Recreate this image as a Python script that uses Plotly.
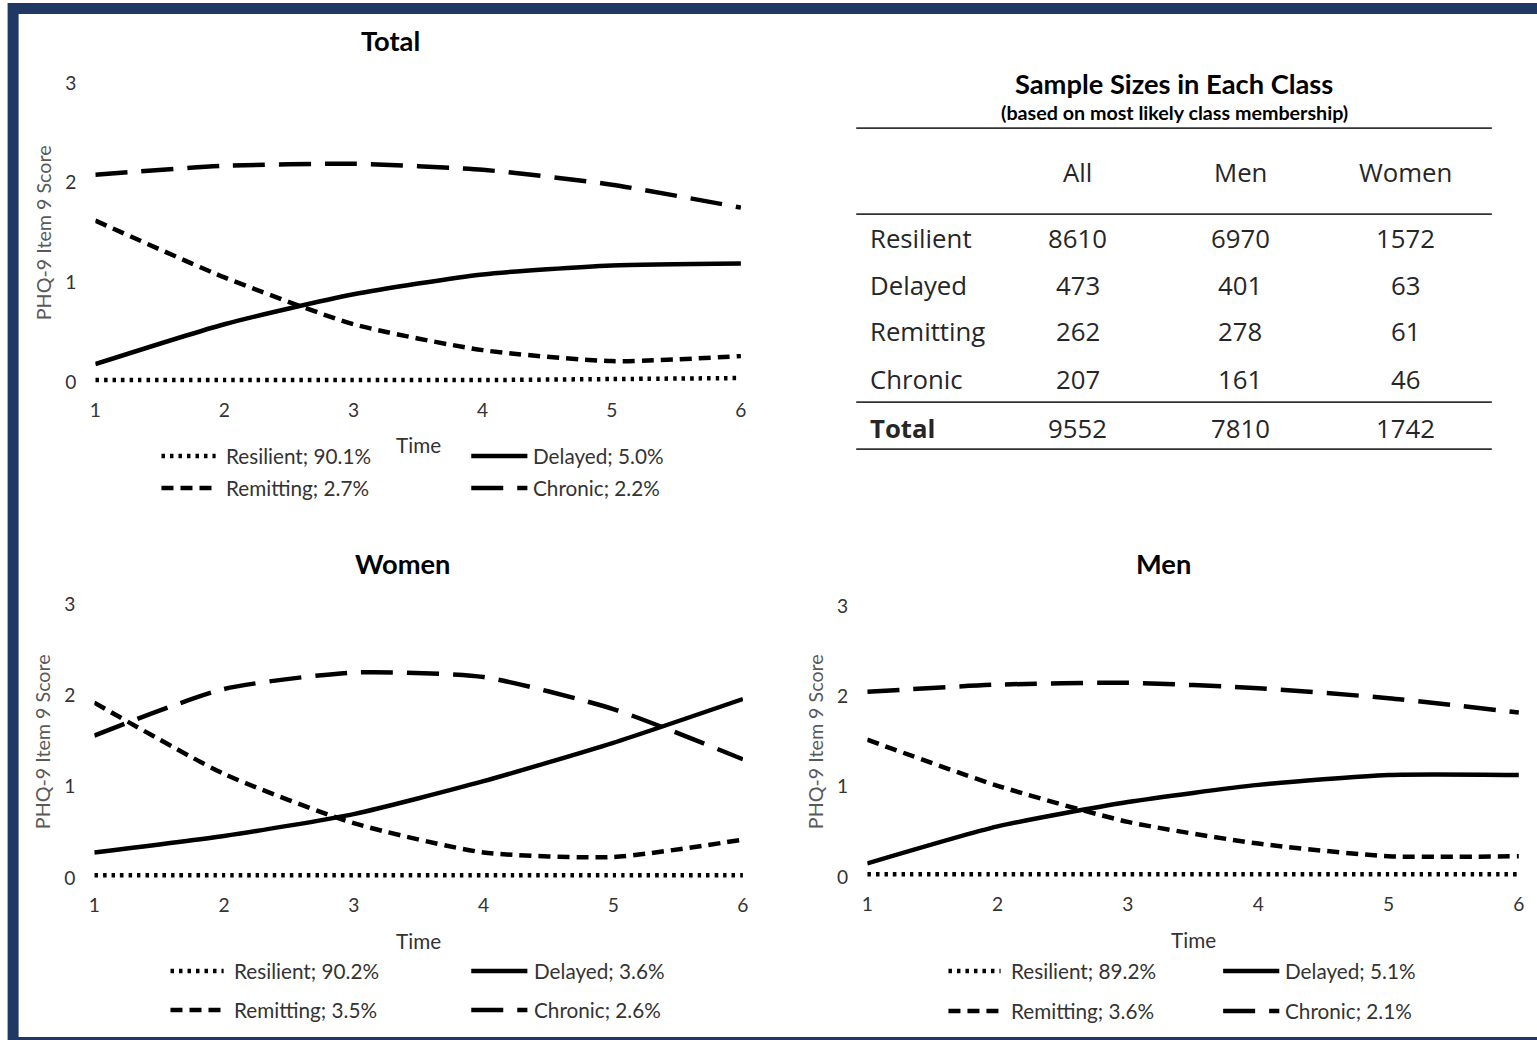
import plotly.graph_objects as go

# Positions below are given on a 1537x1040 layout grid and converted to
# figure pixels, allowing for the 8px margin the page body keeps round the figure.
GRID_W, GRID_H = 1537, 1040
MARGIN = 8
VIEW_W, VIEW_H = GRID_W + 2 * MARGIN, GRID_H + MARGIN
FIG_W, FIG_H = VIEW_W - 2 * MARGIN, VIEW_H - MARGIN
SX = VIEW_W / GRID_W
SY = VIEW_H / GRID_H
FS = SX  # font/size scale that goes with the grid

# ---- data -------------------------------------------------------------
time_points = [1, 2, 3, 4, 5, 6]
classes = ["Resilient", "Delayed", "Remitting", "Chronic"]

total_resilient = [0.02, 0.02, 0.02, 0.02, 0.03, 0.04]
total_delayed = [0.18, 0.58, 0.88, 1.08, 1.17, 1.19]
total_remitting = [1.62, 1.05, 0.58, 0.32, 0.21, 0.26]
total_chronic = [2.08, 2.17, 2.19, 2.13, 1.98, 1.75]
total_pct = [90.1, 5.0, 2.7, 2.2]

women_resilient = [0.03, 0.03, 0.03, 0.03, 0.03, 0.03]
women_delayed = [0.28, 0.46, 0.70, 1.06, 1.48, 1.96]
women_remitting = [1.92, 1.14, 0.60, 0.28, 0.23, 0.42]
women_chronic = [1.56, 2.07, 2.25, 2.20, 1.85, 1.30]
women_pct = [90.2, 3.6, 3.5, 2.6]

men_resilient = [0.03, 0.03, 0.03, 0.03, 0.03, 0.03]
men_delayed = [0.15, 0.56, 0.83, 1.02, 1.13, 1.13]
men_remitting = [1.52, 1.01, 0.61, 0.37, 0.23, 0.23]
men_chronic = [2.05, 2.13, 2.15, 2.09, 1.98, 1.82]
men_pct = [89.2, 5.1, 3.6, 2.1]

table_columns = ["All", "Men", "Women"]
n_all = [8610, 473, 262, 207]
n_men = [6970, 401, 278, 161]
n_women = [1572, 63, 61, 46]

y_ticks = [0, 1, 2, 3]
y_range = [-0.15, 3.05]

# ---- styles -----------------------------------------------------------
FONT = "Lato, Carlito, Calibri, sans-serif"
TABLE_FONT = "Open Sans, Segoe UI, sans-serif"
FRAME = "#1F3864"
LINE_W = 4.5
SMOOTH = 0.6
dash_styles = {
    "Resilient": "3.5px,5px",
    "Delayed": "solid",
    "Remitting": "12px,7px",
    "Chronic": "32px,14px",
}


def fx(px):
    """grid x -> paper fraction"""
    return (px * SX - MARGIN) / FIG_W


def fy(py):
    """grid y -> paper fraction"""
    return 1 - (py * SY - MARGIN) / FIG_H


panels = [
    dict(title="Total", ax="", series=[total_resilient, total_delayed, total_remitting, total_chronic],
         pct=total_pct, xpx=(97, 741), ypx=(382, 83), title_xy=(391, 40), ytitle_xy=(45, 233),
         time_y=445, leg_left=(163, 217, 225), leg_right=(472, 528, 532), leg_rows=(456, 488)),
    dict(title="Women", ax="2", series=[women_resilient, women_delayed, women_remitting, women_chronic],
         pct=women_pct, xpx=(96, 743), ypx=(878, 604), title_xy=(403, 563), ytitle_xy=(44, 742),
         time_y=941, leg_left=(172, 225, 233), leg_right=(472, 528, 533), leg_rows=(971, 1010)),
    dict(title="Men", ax="3", series=[men_resilient, men_delayed, men_remitting, men_chronic],
         pct=men_pct, xpx=(867, 1517), ypx=(877, 606), title_xy=(1163, 563), ytitle_xy=(815, 742),
         time_y=940, leg_left=(948, 1000, 1008), leg_right=(1222, 1278, 1282), leg_rows=(971, 1011)),
]

fig = go.Figure()
annotations = []
shapes = []


def add_text(text, x, y, size, color="#262626", bold=False, xanchor="center", angle=0, family=FONT):
    annotations.append(dict(
        text=f"<b>{text}</b>" if bold else text,
        x=fx(x), y=fy(y), xref="paper", yref="paper",
        xanchor=xanchor, yanchor="middle", showarrow=False, textangle=angle,
        font=dict(family=family, size=size * FS, color=color),
    ))


def add_hline(x0, x1, y, width, color="#000000", dash="solid"):
    shapes.append(dict(type="line", xref="paper", yref="paper",
                       x0=fx(x0), x1=fx(x1), y0=fy(y), y1=fy(y),
                       line=dict(color=color, width=width, dash=dash)))


for p in panels:
    ax = p["ax"]
    x1px, x6px = p["xpx"]
    y0px, y3px = p["ypx"]
    unit = (y0px - y3px) / 3.0
    dom_bottom = y0px - y_range[0] * unit
    dom_top = y3px - (y_range[1] - 3) * unit

    for name, values in zip(classes, p["series"]):
        fig.add_trace(go.Scatter(
            x=time_points, y=values, mode="lines", name=name, showlegend=False,
            line=dict(color="#000000", width=LINE_W, dash=dash_styles[name],
                      shape="spline", smoothing=SMOOTH),
            xaxis="x" + ax, yaxis="y" + ax, hoverinfo="x+y+name",
        ))

    fig.layout["xaxis" + ax] = dict(
        domain=[fx(x1px), fx(x6px)], range=[1, 6], anchor="y" + ax,
        tickvals=time_points, showgrid=False, zeroline=False, showline=False, ticks="",
        tickfont=dict(family=FONT, size=19 * FS, color="#333333"),
    )
    fig.layout["yaxis" + ax] = dict(
        domain=[fy(dom_bottom), fy(dom_top)], range=y_range, anchor="x" + ax,
        tickvals=y_ticks, showgrid=False, zeroline=False, showline=False, ticks="",
        ticklabelstandoff=18,
        tickfont=dict(family=FONT, size=19 * FS, color="#333333"),
    )

    add_text(p["title"], *p["title_xy"], size=27, color="#000000", bold=True)
    add_text("PHQ-9 Item 9 Score", *p["ytitle_xy"], size=19.5, color="#595959", angle=-90)
    add_text("Time", (x1px + x6px) / 2, p["time_y"], size=20.5, color="#333333")

    # legend: two columns, two rows
    slots = [(p["leg_left"], p["leg_rows"][0]), (p["leg_right"], p["leg_rows"][0]),
             (p["leg_left"], p["leg_rows"][1]), (p["leg_right"], p["leg_rows"][1])]
    for name, pct, (col, row) in zip(classes, p["pct"], slots):
        s0, s1, tx = col
        add_hline(s0, s1, row, LINE_W, dash=dash_styles[name])
        add_text(f"{name}; {pct:.1f}%", tx, row, size=20.5, color="#333333", xanchor="left")

# ---- sample size table -----------------------------------------------
add_text("Sample Sizes in Each Class", 1173, 83, size=27, color="#000000", bold=True)
add_text("(based on most likely class membership)", 1173, 112, size=19.5, color="#000000", bold=True)
for y in (128, 214, 402, 449):
    add_hline(856, 1490, y, 1.8, color="#333333")

col_x = [1077, 1239, 1404]
for cx, label in zip(col_x, table_columns):
    add_text(label, cx, 172, size=25.5, family=TABLE_FONT)

row_y = [238, 285, 331, 379]
for ry, name, a, m, w in zip(row_y, classes, n_all, n_men, n_women):
    add_text(name, 868, ry, size=25.5, family=TABLE_FONT, xanchor="left")
    for cx, v in zip(col_x, (a, m, w)):
        add_text(str(v), cx, ry, size=25.5, family=TABLE_FONT)

add_text("Total", 868, 428, size=25.5, family=TABLE_FONT, xanchor="left", bold=True)
for cx, col in zip(col_x, (n_all, n_men, n_women)):
    add_text(str(sum(col)), cx, 428, size=25.5, family=TABLE_FONT)

# ---- frame --------------------------------------------------------------
shapes.append(dict(type="rect", xref="paper", yref="paper",
                   x0=fx(15), x1=fx(GRID_W + 30), y0=fy(8.5), y1=fy(GRID_H + 2.5),
                   line=dict(color=FRAME, width=11), fillcolor="rgba(0,0,0,0)"))

fig.update_layout(
    width=FIG_W, height=FIG_H, margin=dict(l=0, r=0, t=0, b=0),
    paper_bgcolor="#FFFFFF", plot_bgcolor="rgba(0,0,0,0)",
    annotations=annotations, shapes=shapes, showlegend=False,
    font=dict(family=FONT, color="#262626"),
)

fig.write_html("out.html")
